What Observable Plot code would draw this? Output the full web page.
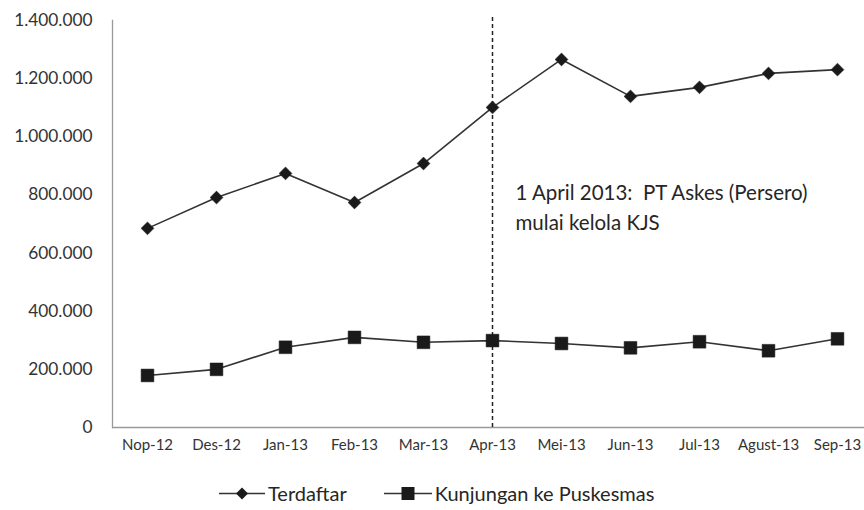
<!DOCTYPE html>
<html>
<head>
<meta charset="utf-8">
<script src="https://cdn.jsdelivr.net/npm/d3@7"></script>
<script src="https://cdn.jsdelivr.net/npm/@observablehq/plot@0.6"></script>
<style>
  body { margin: 0; background: #fff; font-family: Lato, "Open Sans", sans-serif; }
  #chart { width: 864px; }
  .legend { display: flex; justify-content: flex-start; align-items: center; height: 50px; padding-left: 219px; font-size: 20px; color: #262626; }
  .legend .item { display: flex; align-items: center; margin-right: 37px; }
  .legend svg { margin-right: 3px; }
</style>
</head>
<body>
<div id="chart"></div>
<script>
const months = ["Nop-12","Des-12","Jan-13","Feb-13","Mar-13","Apr-13","Mei-13","Jun-13","Jul-13","Agust-13","Sep-13"];
const terdaftar = [685000, 791000, 874000, 774000, 908000, 1101000, 1266000, 1139000, 1170000, 1218000, 1231000];
const kunjungan = [179000, 200000, 276000, 310000, 293000, 299000, 289000, 274000, 295000, 264000, 305000];
const seriesNames = ["Terdaftar", "Kunjungan ke Puskesmas"];
const yTicks = [0, 200000, 400000, 600000, 800000, 1000000, 1200000, 1400000];
const markerMonth = "Apr-13";
const annotation = "1 April 2013:  PT Askes (Persero)\nmulai kelola KJS";

const fmt = d3.formatLocale({decimal: ",", thousands: ".", grouping: [3], currency: ["", ""]}).format(",");

const rowsT = months.map((m, i) => ({month: m, value: terdaftar[i]}));
const rowsK = months.map((m, i) => ({month: m, value: kunjungan[i]}));

const ink = "#222";
const chart = Plot.plot({
  width: 864,
  height: 468,
  marginTop: 20,
  marginBottom: 41,
  marginLeft: 112,
  marginRight: 0,
  style: {fontFamily: "Lato, 'Open Sans', sans-serif", color: "#333", background: "#fff"},
  x: {type: "point", domain: months, range: [146.5, 837.5], padding: 0, label: null},
  y: {domain: [0, 1400000], label: null},
  marks: [
    Plot.ruleY([0], {stroke: "#999", strokeWidth: 1.3}),
    Plot.frame({anchor: "left", stroke: "#999", strokeWidth: 1.3}),
    Plot.axisY(yTicks, {tickSize: 0, tickPadding: 20, tickFormat: fmt, fontSize: 17.3, fill: "#333", label: null}),
    Plot.axisX(months, {tickSize: 0, tickPadding: 12, fontSize: 15, fill: "#333", label: null}),
    Plot.ruleX([markerMonth], {y1: 0, y2: 1415000, stroke: ink, strokeWidth: 1.5, strokeDasharray: "4,3"}),
    Plot.line(rowsT, {x: "month", y: "value", stroke: "#333", strokeWidth: 1.6}),
    Plot.line(rowsK, {x: "month", y: "value", stroke: "#333", strokeWidth: 1.6}),
    Plot.dot(rowsT, {x: "month", y: "value", symbol: "diamond2", r: 5.8, fill: "#1a1a1a", stroke: "#1a1a1a", strokeWidth: 0.5}),
    Plot.dot(rowsK, {x: "month", y: "value", symbol: "square", r: 7.2, fill: "#1a1a1a", stroke: "#1a1a1a", strokeWidth: 0.5}),
    Plot.text([annotation], {x: () => markerMonth, y: () => 765000, dx: 23, text: d => d, textAnchor: "start", lineHeight: 1.47, fontSize: 20.5, fill: "#262626"})
  ]
});
document.getElementById("chart").appendChild(chart);

const legend = document.createElement("div");
legend.className = "legend";
const sym = (kind) => {
  const shape = kind === 0
    ? `<path d="M23,1.5 L29,7.5 L23,13.5 L17,7.5 Z" fill="#1a1a1a"/>`
    : `<rect x="17.5" y="1" width="13" height="13" fill="#1a1a1a"/>`;
  return `<svg width="${kind === 0 ? 46 : 48}" height="15"><line x1="0" x2="48" y1="7.5" y2="7.5" stroke="#333" stroke-width="1.6"/>${shape}</svg>`;
};
legend.innerHTML = seriesNames.map((n, i) => `<span class="item">${sym(i)}<span>${n}</span></span>`).join("");
document.body.appendChild(legend);
</script>
</body>
</html>
